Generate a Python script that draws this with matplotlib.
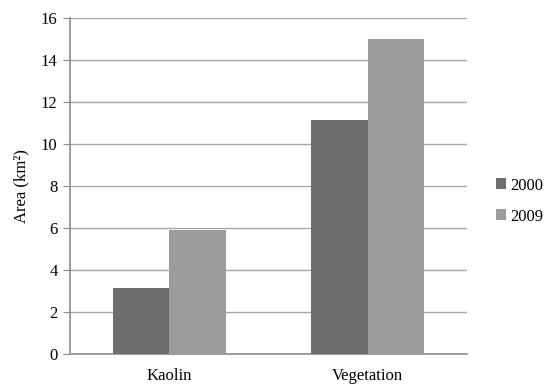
import matplotlib
matplotlib.use('Agg')
import matplotlib.pyplot as plt
import numpy as np

categorias = ['Kaolin', 'Vegetation']
anos = ['2000', '2009']
area_2000 = [3.15, 11.15]
area_2009 = [5.9, 15.0]
cores = ['#6e6e6e', '#9c9c9c']

plt.rcParams['font.family'] = ['Liberation Serif', 'DejaVu Serif']

fig = plt.figure(figsize=(5.56, 3.90), dpi=100)
ax = fig.add_axes([0.126, 0.092, 0.714, 0.862])

x = np.arange(len(categorias))
largura = 0.285
ax.bar(x - largura / 2, area_2000, largura, color=cores[0], label=anos[0], zorder=3)
ax.bar(x + largura / 2, area_2009, largura, color=cores[1], label=anos[1], zorder=3)

ax.set_xlim(-0.5, 1.5)
ax.set_ylim(0, 16)
ax.set_yticks(range(0, 17, 2))
ax.set_xticks(x)
ax.set_xticklabels(categorias, fontsize=12)
ax.tick_params(axis='x', length=0, pad=10)
ax.tick_params(axis='y', length=5, color='#8c8c8c', labelsize=12, pad=4)
ax.grid(axis='y', color='#a6a6a6', linewidth=1.0, zorder=0)
ax.set_ylabel('Area (km²)', fontsize=12, labelpad=8)

for lado in ['top', 'right']:
    ax.spines[lado].set_visible(False)
for lado in ['left', 'bottom']:
    ax.spines[lado].set_color('#8c8c8c')
    ax.spines[lado].set_linewidth(1.2)

ax.legend(loc='center left', bbox_to_anchor=(1.035, 0.455), frameon=False,
          fontsize=12, handlelength=0.6, handleheight=0.6, handletextpad=0.25,
          labelspacing=0.9)

plt.savefig('out.png', dpi=100)
plt.close()
